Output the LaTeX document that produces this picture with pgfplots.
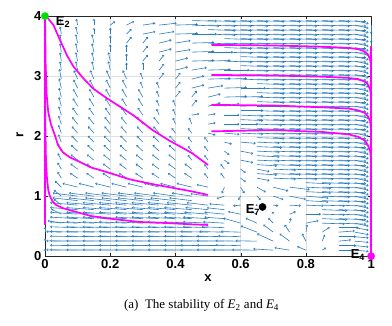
\documentclass[border=0pt]{standalone}
\usepackage{pgfplots}
\pgfplotsset{compat=1.18}
\usepackage{fontspec}
\setmainfont{Liberation Serif}
\newfontfamily\arial{Liberation Sans}
\usetikzlibrary{arrows.meta}
\definecolor{qblue}{HTML}{2A7DC0}
\definecolor{traj}{HTML}{FF00FF}
\definecolor{egreen}{HTML}{00E000}

% direction field: x r u v, with u and v given in picture pixels
\pgfplotstableread[row sep=\\]{
x r u v\\
0 0.1 0 1\\ 0.05 0.1 -12 0.3\\ 0.1 0.1 -22 0.3\\ 0.15 0.1 -22 0.3\\ 0.2 0.1 -22 0.3\\ 0.25 0.1 -22 0.3\\ 0.3 0.1 -22 0.3\\ 0.35 0.1 -22 0.3\\ 0.4 0.1 -22 0.3\\ 0.45 0.1 -22 0.3\\ 0.5 0.1 -22 0.3\\ 0.55 0.1 -22 0.3\\ 0.6 0.1 -22 0.3\\ 0.65 0.1 -20 0.3\\ 0.7 0.1 -16 1\\ 0.75 0.1 -12 2\\ 0.8 0.1 -7 3\\ 0.85 0.1 3 2\\ 0.9 0.1 12 0\\ 0.95 0.1 11 -1\\ 1 0.1 0 -2\\
0 0.25 0 2\\ 0.05 0.25 -12 0.3\\ 0.1 0.25 -22 0.3\\ 0.15 0.25 -22 0.3\\ 0.2 0.25 -22 0.3\\ 0.25 0.25 -22 0.3\\ 0.3 0.25 -22 0.3\\ 0.35 0.25 -22 0.3\\ 0.4 0.25 -22 0.3\\ 0.45 0.25 -22 0.3\\ 0.5 0.25 -22 0.3\\ 0.55 0.25 -22 0.3\\ 0.6 0.25 -20 0.3\\ 0.65 0.25 -17 0.3\\ 0.7 0.25 -13 6\\ 0.75 0.25 -8 6\\ 0.8 0.25 -3 6\\ 0.85 0.25 2 5\\ 0.9 0.25 10 1\\ 0.95 0.25 11 -1\\ 1 0.25 0 -4\\
0 0.4 0 4\\ 0.05 0.4 -12 0.5\\ 0.1 0.4 -22 0.5\\ 0.15 0.4 -22 0.5\\ 0.2 0.4 -22 0.5\\ 0.25 0.4 -22 0.5\\ 0.3 0.4 -22 0.5\\ 0.35 0.4 -22 0.5\\ 0.4 0.4 -22 0.5\\ 0.45 0.4 -22 0.5\\ 0.5 0.4 -22 0.5\\ 0.55 0.4 -20 0.5\\ 0.6 0.4 -16 0.5\\ 0.65 0.4 -13 5\\ 0.7 0.4 -8 6\\ 0.75 0.4 -4 6\\ 0.8 0.4 1 6\\ 0.85 0.4 6 4\\ 0.9 0.4 13 1\\ 0.95 0.4 11 -2\\ 1 0.4 0 -7\\
0 0.55 0 8\\ 0.05 0.55 -11 2\\ 0.1 0.55 -22 1\\ 0.15 0.55 -22 1\\ 0.2 0.55 -22 1\\ 0.25 0.55 -22 1\\ 0.3 0.55 -22 1\\ 0.35 0.55 -22 1\\ 0.4 0.55 -22 1\\ 0.45 0.55 -22 1\\ 0.5 0.55 -20 1\\ 0.55 0.55 -17 1\\ 0.6 0.55 -14 4\\ 0.65 0.55 -9 4\\ 0.7 0.55 -4 4\\ 0.75 0.55 1 4\\ 0.8 0.55 10 2\\ 0.85 0.55 18 -0.6\\ 0.9 0.55 22 -0.8\\ 0.95 0.55 11 -2.5\\ 1 0.55 0 -7\\
0 0.7 0 8\\ 0.05 0.7 -8 4\\ 0.1 0.7 -22 1.5\\ 0.15 0.7 -22 1.5\\ 0.2 0.7 -22 1.5\\ 0.25 0.7 -22 1.5\\ 0.3 0.7 -22 1.5\\ 0.35 0.7 -22 1.5\\ 0.4 0.7 -22 1.5\\ 0.45 0.7 -22 1.5\\ 0.5 0.7 -19 1.5\\ 0.55 0.7 -16 1.5\\ 0.6 0.7 -10 2\\ 0.65 0.7 -5 2\\ 0.7 0.7 -0.5 2\\ 0.75 0.7 5 2\\ 0.8 0.7 12 0\\ 0.85 0.7 18 -0.6\\ 0.9 0.7 22 -0.8\\ 0.95 0.7 11 -2.5\\ 1 0.7 0 -7\\
0 0.85 0 8\\ 0.05 0.85 -6 5\\ 0.1 0.85 -22 2\\ 0.15 0.85 -22 2\\ 0.2 0.85 -22 2\\ 0.25 0.85 -22 2\\ 0.3 0.85 -22 2\\ 0.35 0.85 -22 2\\ 0.4 0.85 -22 2\\ 0.45 0.85 -20 2\\ 0.5 0.85 -17 2\\ 0.55 0.85 -12 1\\ 0.6 0.85 -6 -0.5\\ 0.65 0.85 -1 -0.5\\ 0.7 0.85 4 -0.5\\ 0.75 0.85 9 -0.5\\ 0.8 0.85 14 -0.6\\ 0.85 0.85 18 -0.6\\ 0.9 0.85 22 -0.8\\ 0.95 0.85 11 -2.5\\ 1 0.85 0 -7\\
0 1.0 0 8\\ 0.05 1.0 -6 5\\ 0.1 1.0 -20 2.5\\ 0.15 1.0 -20 2.5\\ 0.2 1.0 -20 2.5\\ 0.25 1.0 -20 2.5\\ 0.3 1.0 -20 2.5\\ 0.35 1.0 -20 2.5\\ 0.4 1.0 -18 2.5\\ 0.45 1.0 -16 2.5\\ 0.5 1.0 -14 2\\ 0.55 1.0 -6 -2\\ 0.6 1.0 -2 -3\\ 0.65 1.0 3 -3\\ 0.7 1.0 8 -2.7\\ 0.75 1.0 13 -2.5\\ 0.8 1.0 18 -1.5\\ 0.85 1.0 22 -0.8\\ 0.9 1.0 22 -0.8\\ 0.95 1.0 11 -2.5\\ 1 1.0 0 -7\\
0 1.15 0 8\\ 0.05 1.15 -5 5\\ 0.1 1.15 -12 3\\ 0.15 1.15 -12 3\\ 0.2 1.15 -12 3\\ 0.25 1.15 -12 3\\ 0.3 1.15 -12 3\\ 0.35 1.15 -12 3\\ 0.4 1.15 -12 3\\ 0.45 1.15 -12 3\\ 0.5 1.15 -9 2\\ 0.55 1.15 -2 -5\\ 0.6 1.15 3 -5\\ 0.65 1.15 7 -4\\ 0.7 1.15 12 -3\\ 0.75 1.15 16 -2\\ 0.8 1.15 20 -1\\ 0.85 1.15 22 -0.8\\ 0.9 1.15 22 -0.8\\ 0.95 1.15 11 -2.5\\ 1 1.15 0 -7\\
0 1.3 0 8\\ 0.05 1.3 -3 5\\ 0.1 1.3 -6 4\\ 0.15 1.3 -6 4\\ 0.2 1.3 -6 4\\ 0.25 1.3 -6 4\\ 0.3 1.3 -6 4\\ 0.35 1.3 -6 4\\ 0.4 1.3 -6 4\\ 0.45 1.3 -6 4\\ 0.5 1.3 -3 4\\ 0.55 1.3 -3 4\\ 0.6 1.3 4 -3\\ 0.65 1.3 10 -2\\ 0.7 1.3 18 -0.8\\ 0.75 1.3 22 -0.8\\ 0.8 1.3 22 -0.8\\ 0.85 1.3 22 -0.8\\ 0.9 1.3 22 -0.8\\ 0.95 1.3 11 -2.5\\ 1 1.3 0 -7\\
0 1.45 0 8\\ 0.05 1.45 -3 5.3\\ 0.1 1.45 -5.7 4.3\\ 0.15 1.45 -5.7 4.3\\ 0.2 1.45 -5.7 4.3\\ 0.25 1.45 -5.7 4.3\\ 0.3 1.45 -5.7 4.3\\ 0.35 1.45 -5.7 4.3\\ 0.4 1.45 -5.7 4.3\\ 0.45 1.45 -5.7 4.3\\ 0.5 1.45 -3 4\\ 0.55 1.45 -3 4\\ 0.6 1.45 4 -3\\ 0.65 1.45 10 -2\\ 0.7 1.45 18 -0.8\\ 0.75 1.45 22 -0.8\\ 0.8 1.45 22 -0.8\\ 0.85 1.45 22 -0.8\\ 0.9 1.45 22 -0.8\\ 0.95 1.45 11 -2.5\\ 1 1.45 0 -7\\
0 1.6 0 8\\ 0.05 1.6 -2.8 5.5\\ 0.1 1.6 -5.5 4.5\\ 0.15 1.6 -5.5 4.5\\ 0.2 1.6 -5.5 4.5\\ 0.25 1.6 -5.5 4.5\\ 0.3 1.6 -5.5 4.5\\ 0.35 1.6 -5.5 4.5\\ 0.4 1.6 -5.5 4.5\\ 0.45 1.6 -3 4\\ 0.5 1.6 -3 4\\ 0.55 1.6 4 -3\\ 0.6 1.6 10 -2\\ 0.65 1.6 18 -0.8\\ 0.7 1.6 22 -0.8\\ 0.75 1.6 22 -0.8\\ 0.8 1.6 22 -0.8\\ 0.85 1.6 22 -0.8\\ 0.9 1.6 22 -0.8\\ 0.95 1.6 11 -2.5\\ 1 1.6 0 -7\\
0 1.75 0 8\\ 0.05 1.75 -2.6 5.8\\ 0.1 1.75 -5.2 4.8\\ 0.15 1.75 -5.2 4.8\\ 0.2 1.75 -5.2 4.8\\ 0.25 1.75 -5.2 4.8\\ 0.3 1.75 -5.2 4.8\\ 0.35 1.75 -5.2 4.8\\ 0.4 1.75 -5.2 4.8\\ 0.45 1.75 -3 4\\ 0.5 1.75 -3 4\\ 0.55 1.75 4 -3\\ 0.6 1.75 10 -2\\ 0.65 1.75 18 -0.8\\ 0.7 1.75 22 -0.8\\ 0.75 1.75 22 -0.8\\ 0.8 1.75 22 -0.8\\ 0.85 1.75 22 -0.8\\ 0.9 1.75 22 -0.8\\ 0.95 1.75 11 -2.5\\ 1 1.75 0 -7\\
0 1.9 0 8\\ 0.05 1.9 -2.5 6.1\\ 0.1 1.9 -4.9 5.1\\ 0.15 1.9 -4.9 5.1\\ 0.2 1.9 -4.9 5.1\\ 0.25 1.9 -4.9 5.1\\ 0.3 1.9 -4.9 5.1\\ 0.35 1.9 -4.9 5.1\\ 0.4 1.9 -4.9 5.1\\ 0.45 1.9 -3 4\\ 0.5 1.9 -3 4\\ 0.55 1.9 6 -1.5\\ 0.6 1.9 12 -1\\ 0.65 1.9 18 -0.8\\ 0.7 1.9 22 -0.8\\ 0.75 1.9 22 -0.8\\ 0.8 1.9 22 -0.8\\ 0.85 1.9 22 -0.8\\ 0.9 1.9 22 -0.8\\ 0.95 1.9 11 -2.5\\ 1 1.9 0 -7\\
0 2.05 0 8\\ 0.05 2.05 -2.3 6.4\\ 0.1 2.05 -4.6 5.4\\ 0.15 2.05 -4.6 5.4\\ 0.2 2.05 -4.6 5.4\\ 0.25 2.05 -4.6 5.4\\ 0.3 2.05 -4.6 5.4\\ 0.35 2.05 -4.6 5.4\\ 0.4 2.05 -3 4\\ 0.45 2.05 -3 4\\ 0.5 2.05 6 -1.5\\ 0.55 2.05 12 -1\\ 0.6 2.05 18 -0.8\\ 0.65 2.05 22 -0.8\\ 0.7 2.05 22 -0.8\\ 0.75 2.05 22 -0.8\\ 0.8 2.05 22 -0.8\\ 0.85 2.05 22 -0.8\\ 0.9 2.05 22 -0.8\\ 0.95 2.05 11 -2.5\\ 1 2.05 0 -7\\
0 2.2 0 8\\ 0.05 2.2 -2.2 6.6\\ 0.1 2.2 -4.4 5.6\\ 0.15 2.2 -4.4 5.6\\ 0.2 2.2 -4.4 5.6\\ 0.25 2.2 -4.4 5.6\\ 0.3 2.2 -4.4 5.6\\ 0.35 2.2 -4.4 5.6\\ 0.4 2.2 -2 5\\ 0.45 2.2 -2 5\\ 0.5 2.2 6 1\\ 0.55 2.2 12 0\\ 0.6 2.2 14 0\\ 0.65 2.2 20 -0.8\\ 0.7 2.2 22 -0.8\\ 0.75 2.2 22 -0.8\\ 0.8 2.2 22 -0.8\\ 0.85 2.2 22 -0.8\\ 0.9 2.2 22 -0.8\\ 0.95 2.2 11 -2.5\\ 1 2.2 0 -7\\
0 2.35 0 8\\ 0.05 2.35 -2 6.9\\ 0.1 2.35 -4.1 5.9\\ 0.15 2.35 -4.1 5.9\\ 0.2 2.35 -4.1 5.9\\ 0.25 2.35 -4.1 5.9\\ 0.3 2.35 -4.1 5.9\\ 0.35 2.35 -2 5\\ 0.4 2.35 -2 5\\ 0.45 2.35 6 1\\ 0.5 2.35 6 1\\ 0.55 2.35 12 0\\ 0.6 2.35 18 -0.8\\ 0.65 2.35 22 -0.8\\ 0.7 2.35 22 -0.8\\ 0.75 2.35 22 -0.8\\ 0.8 2.35 22 -0.8\\ 0.85 2.35 22 -0.8\\ 0.9 2.35 22 -0.8\\ 0.95 2.35 11 -2.5\\ 1 2.35 0 -7\\
0 2.5 0 8\\ 0.05 2.5 -1.9 7.2\\ 0.1 2.5 -3.8 6.2\\ 0.15 2.5 -3.8 6.2\\ 0.2 2.5 -3.8 6.2\\ 0.25 2.5 -3.8 6.2\\ 0.3 2.5 -3.8 6.2\\ 0.35 2.5 -2 5\\ 0.4 2.5 -2 5\\ 0.45 2.5 4 5\\ 0.5 2.5 10 2.5\\ 0.55 2.5 12 2\\ 0.6 2.5 18 0.5\\ 0.65 2.5 20 0\\ 0.7 2.5 22 -0.8\\ 0.75 2.5 22 -0.8\\ 0.8 2.5 22 -0.8\\ 0.85 2.5 22 -0.8\\ 0.9 2.5 22 -0.8\\ 0.95 2.5 11 -2.5\\ 1 2.5 0 -7\\
0 2.65 0 8\\ 0.05 2.65 -1.8 7.4\\ 0.1 2.65 -3.6 6.4\\ 0.15 2.65 -3.6 6.4\\ 0.2 2.65 -3.6 6.4\\ 0.25 2.65 -3.6 6.4\\ 0.3 2.65 -3.6 6.4\\ 0.35 2.65 -2 5\\ 0.4 2.65 4 5\\ 0.45 2.65 4 5\\ 0.5 2.65 10 2.5\\ 0.55 2.65 18 0.5\\ 0.6 2.65 18 0.5\\ 0.65 2.65 22 -0.8\\ 0.7 2.65 22 -0.8\\ 0.75 2.65 22 -0.8\\ 0.8 2.65 22 -0.8\\ 0.85 2.65 22 -0.8\\ 0.9 2.65 22 -0.8\\ 0.95 2.65 11 -2.5\\ 1 2.65 0 -7\\
0 2.8 0 8\\ 0.05 2.8 -1.7 7.7\\ 0.1 2.8 -3.3 6.7\\ 0.15 2.8 -3.3 6.7\\ 0.2 2.8 -3.3 6.7\\ 0.25 2.8 -3.3 6.7\\ 0.3 2.8 -2 5\\ 0.35 2.8 -2 5\\ 0.4 2.8 4 5\\ 0.45 2.8 10 2.5\\ 0.5 2.8 12 2\\ 0.55 2.8 18 0.5\\ 0.6 2.8 20 0\\ 0.65 2.8 22 -0.8\\ 0.7 2.8 22 -0.8\\ 0.75 2.8 22 -0.8\\ 0.8 2.8 22 -0.8\\ 0.85 2.8 22 -0.8\\ 0.9 2.8 22 -0.8\\ 0.95 2.8 11 -2.5\\ 1 2.8 0 -7\\
0 2.95 0 8\\ 0.05 2.95 -1.5 8\\ 0.1 2.95 -3 7\\ 0.15 2.95 -3 7\\ 0.2 2.95 -3 7\\ 0.25 2.95 -3 7\\ 0.3 2.95 -2 5\\ 0.35 2.95 4 5\\ 0.4 2.95 4 5\\ 0.45 2.95 10 2.5\\ 0.5 2.95 18 0.5\\ 0.55 2.95 18 0.5\\ 0.6 2.95 22 -0.8\\ 0.65 2.95 22 -0.8\\ 0.7 2.95 22 -0.8\\ 0.75 2.95 22 -0.8\\ 0.8 2.95 22 -0.8\\ 0.85 2.95 22 -0.8\\ 0.9 2.95 22 -0.8\\ 0.95 2.95 11 -2.5\\ 1 2.95 0 -7\\
0 3.1 0 8\\ 0.05 3.1 -1 7\\ 0.1 3.1 -1.5 7\\ 0.15 3.1 -1.5 7\\ 0.2 3.1 -1.5 7\\ 0.25 3.1 0 6\\ 0.3 3.1 0 6\\ 0.35 3.1 4 5\\ 0.4 3.1 10 2.5\\ 0.45 3.1 12 2\\ 0.5 3.1 18 0.5\\ 0.55 3.1 20 0\\ 0.6 3.1 22 -0.8\\ 0.65 3.1 22 -0.8\\ 0.7 3.1 22 -0.8\\ 0.75 3.1 22 -0.8\\ 0.8 3.1 22 -0.8\\ 0.85 3.1 22 -0.8\\ 0.9 3.1 22 -0.8\\ 0.95 3.1 11 -2.5\\ 1 3.1 0 -7\\
0 3.25 0 8\\ 0.05 3.25 -1 7\\ 0.1 3.25 -1.5 7\\ 0.15 3.25 -1.5 7\\ 0.2 3.25 -1.5 7\\ 0.25 3.25 0 6\\ 0.3 3.25 4 5\\ 0.35 3.25 4 5\\ 0.4 3.25 10 2.5\\ 0.45 3.25 18 0.5\\ 0.5 3.25 18 0.5\\ 0.55 3.25 22 -0.8\\ 0.6 3.25 22 -0.8\\ 0.65 3.25 22 -0.8\\ 0.7 3.25 22 -0.8\\ 0.75 3.25 22 -0.8\\ 0.8 3.25 22 -0.8\\ 0.85 3.25 22 -0.8\\ 0.9 3.25 22 -0.8\\ 0.95 3.25 11 -2.5\\ 1 3.25 0 -7\\
0 3.4 0 8\\ 0.05 3.4 -1 7\\ 0.1 3.4 -1.5 7\\ 0.15 3.4 -1.5 7\\ 0.2 3.4 0 6\\ 0.25 3.4 0 6\\ 0.3 3.4 4 5\\ 0.35 3.4 10 2.5\\ 0.4 3.4 12 2\\ 0.45 3.4 18 0.5\\ 0.5 3.4 20 0\\ 0.55 3.4 22 -0.8\\ 0.6 3.4 22 -0.8\\ 0.65 3.4 22 -0.8\\ 0.7 3.4 22 -0.8\\ 0.75 3.4 22 -0.8\\ 0.8 3.4 22 -0.8\\ 0.85 3.4 22 -0.8\\ 0.9 3.4 22 -0.8\\ 0.95 3.4 11 -2.5\\ 1 3.4 0 -7\\
0 3.55 0 8\\ 0.05 3.55 -1 7\\ 0.1 3.55 -1.5 7\\ 0.15 3.55 -1.5 7\\ 0.2 3.55 0 6\\ 0.25 3.55 4 5\\ 0.3 3.55 4 5\\ 0.35 3.55 10 2.5\\ 0.4 3.55 12 2\\ 0.45 3.55 18 0.5\\ 0.5 3.55 22 -0.8\\ 0.55 3.55 22 -0.8\\ 0.6 3.55 22 -0.8\\ 0.65 3.55 22 -0.8\\ 0.7 3.55 22 -0.8\\ 0.75 3.55 22 -0.8\\ 0.8 3.55 22 -0.8\\ 0.85 3.55 22 -0.8\\ 0.9 3.55 22 -0.8\\ 0.95 3.55 11 -2.5\\ 1 3.55 0 -7\\
0 3.7 0 7\\ 0.05 3.7 -1 6\\ 0.1 3.7 -1.5 6\\ 0.15 3.7 0 5\\ 0.2 3.7 0 5\\ 0.25 3.7 4 4\\ 0.3 3.7 10 2\\ 0.35 3.7 12 2\\ 0.4 3.7 18 0.5\\ 0.45 3.7 20 0\\ 0.5 3.7 22 -0.8\\ 0.55 3.7 22 -0.8\\ 0.6 3.7 22 -0.8\\ 0.65 3.7 22 -0.8\\ 0.7 3.7 22 -0.8\\ 0.75 3.7 22 -0.8\\ 0.8 3.7 22 -0.8\\ 0.85 3.7 22 -0.8\\ 0.9 3.7 22 -0.8\\ 0.95 3.7 11 -2.5\\ 1 3.7 0 -7\\
0 3.85 0 5\\ 0.05 3.85 -1 5\\ 0.1 3.85 -1 5\\ 0.15 3.85 0 5\\ 0.2 3.85 4 3\\ 0.25 3.85 6 3\\ 0.3 3.85 10 1.5\\ 0.35 3.85 14 1.5\\ 0.4 3.85 18 0.5\\ 0.45 3.85 22 -0.8\\ 0.5 3.85 22 -0.8\\ 0.55 3.85 22 -0.8\\ 0.6 3.85 22 -0.8\\ 0.65 3.85 22 -0.8\\ 0.7 3.85 22 -0.8\\ 0.75 3.85 22 -0.8\\ 0.8 3.85 22 -0.8\\ 0.85 3.85 22 -0.8\\ 0.9 3.85 22 -0.8\\ 0.95 3.85 11 -2.5\\ 1 3.85 0 -7\\
}\field

% extra rows in between, where the field runs in long nearly level streaks
\pgfplotstableread[row sep=\\]{
x r u v\\
0.1 0.175 -22 0.3\\ 0.15 0.175 -22 0.3\\ 0.2 0.175 -22 0.3\\ 0.25 0.175 -22 0.3\\ 0.3 0.175 -22 0.3\\ 0.35 0.175 -22 0.3\\ 0.4 0.175 -22 0.3\\ 0.45 0.175 -22 0.3\\ 0.5 0.175 -22 0.3\\ 0.55 0.175 -22 0.3\\ 0.6 0.175 -20 0.5\\ 0.9 0.175 14 0\\ 0.95 0.175 11 -1\\
0.1 0.325 -22 0.4\\ 0.15 0.325 -22 0.4\\ 0.2 0.325 -22 0.4\\ 0.25 0.325 -22 0.4\\ 0.3 0.325 -22 0.4\\ 0.35 0.325 -22 0.4\\ 0.4 0.325 -22 0.4\\ 0.45 0.325 -22 0.4\\ 0.5 0.325 -22 0.4\\ 0.55 0.325 -22 0.4\\ 0.6 0.325 -18 0.5\\ 0.9 0.325 14 0\\ 0.95 0.325 11 -1\\
0.1 0.475 -22 0.7\\ 0.15 0.475 -22 0.7\\ 0.2 0.475 -22 0.7\\ 0.25 0.475 -22 0.7\\ 0.3 0.475 -22 0.7\\ 0.35 0.475 -22 0.7\\ 0.4 0.475 -22 0.7\\ 0.45 0.475 -22 0.7\\ 0.5 0.475 -20 0.7\\ 0.55 0.475 -18 0.7\\ 0.9 0.475 16 0\\ 0.95 0.475 11 -2\\
0.1 0.625 -22 1.2\\ 0.15 0.625 -22 1.2\\ 0.2 0.625 -22 1.2\\ 0.25 0.625 -22 1.2\\ 0.3 0.625 -22 1.2\\ 0.35 0.625 -22 1.2\\ 0.4 0.625 -22 1.2\\ 0.45 0.625 -22 1.2\\ 0.5 0.625 -20 1.2\\ 0.55 0.625 -16 1.2\\ 0.85 0.625 20 -0.8\\ 0.9 0.625 22 -0.8\\ 0.95 0.625 11 -2.5\\
0.1 0.775 -22 1.7\\ 0.15 0.775 -22 1.7\\ 0.2 0.775 -22 1.7\\ 0.25 0.775 -22 1.7\\ 0.3 0.775 -22 1.7\\ 0.35 0.775 -22 1.7\\ 0.4 0.775 -22 1.7\\ 0.45 0.775 -22 1.7\\ 0.5 0.775 -18 1.7\\ 0.55 0.775 -14 1.5\\ 0.85 0.775 20 -0.8\\ 0.9 0.775 22 -0.8\\ 0.95 0.775 11 -2.5\\
0.1 0.925 -20 2.2\\ 0.15 0.925 -20 2.2\\ 0.2 0.925 -20 2.2\\ 0.25 0.925 -20 2.2\\ 0.3 0.925 -20 2.2\\ 0.35 0.925 -20 2.2\\ 0.4 0.925 -20 2.2\\ 0.45 0.925 -18 2.2\\ 0.8 0.925 18 -1\\ 0.85 0.925 22 -0.8\\ 0.9 0.925 22 -0.8\\ 0.95 0.925 11 -2.5\\
0.8 1.075 20 -1\\ 0.85 1.075 22 -0.8\\ 0.9 1.075 22 -0.8\\ 0.95 1.075 11 -2.5\\
0.8 1.225 20 -1\\ 0.85 1.225 22 -0.8\\ 0.9 1.225 22 -0.8\\ 0.95 1.225 11 -2.5\\
0.65 1.375 16 -1\\ 0.7 1.375 22 -0.8\\ 0.75 1.375 22 -0.8\\ 0.8 1.375 22 -0.8\\ 0.85 1.375 22 -0.8\\ 0.9 1.375 22 -0.8\\ 0.95 1.375 11 -2.5\\
0.65 1.525 16 -1\\ 0.7 1.525 22 -0.8\\ 0.75 1.525 22 -0.8\\ 0.8 1.525 22 -0.8\\ 0.85 1.525 22 -0.8\\ 0.9 1.525 22 -0.8\\ 0.95 1.525 11 -2.5\\
0.65 1.675 18 -1\\ 0.7 1.675 22 -0.8\\ 0.75 1.675 22 -0.8\\ 0.8 1.675 22 -0.8\\ 0.85 1.675 22 -0.8\\ 0.9 1.675 22 -0.8\\ 0.95 1.675 11 -2.5\\
0.65 1.825 20 -0.8\\ 0.7 1.825 22 -0.8\\ 0.75 1.825 22 -0.8\\ 0.8 1.825 22 -0.8\\ 0.85 1.825 22 -0.8\\ 0.9 1.825 22 -0.8\\ 0.95 1.825 11 -2.5\\
0.65 1.975 22 -0.8\\ 0.7 1.975 22 -0.8\\ 0.75 1.975 22 -0.8\\ 0.8 1.975 22 -0.8\\ 0.85 1.975 22 -0.8\\ 0.9 1.975 22 -0.8\\ 0.95 1.975 11 -2.5\\
0.6 2.125 18 -0.8\\ 0.65 2.125 22 -0.8\\ 0.7 2.125 22 -0.8\\ 0.75 2.125 22 -0.8\\ 0.8 2.125 22 -0.8\\ 0.85 2.125 22 -0.8\\ 0.9 2.125 22 -0.8\\ 0.95 2.125 11 -2.5\\
0.6 2.275 18 -0.8\\ 0.65 2.275 22 -0.8\\ 0.7 2.275 22 -0.8\\ 0.75 2.275 22 -0.8\\ 0.8 2.275 22 -0.8\\ 0.85 2.275 22 -0.8\\ 0.9 2.275 22 -0.8\\ 0.95 2.275 11 -2.5\\
0.6 2.425 18 0\\ 0.65 2.425 22 -0.8\\ 0.7 2.425 22 -0.8\\ 0.75 2.425 22 -0.8\\ 0.8 2.425 22 -0.8\\ 0.85 2.425 22 -0.8\\ 0.9 2.425 22 -0.8\\ 0.95 2.425 11 -2.5\\
0.65 2.575 22 -0.8\\ 0.7 2.575 22 -0.8\\ 0.75 2.575 22 -0.8\\ 0.8 2.575 22 -0.8\\ 0.85 2.575 22 -0.8\\ 0.9 2.575 22 -0.8\\ 0.95 2.575 11 -2.5\\
0.65 2.725 22 -0.8\\ 0.7 2.725 22 -0.8\\ 0.75 2.725 22 -0.8\\ 0.8 2.725 22 -0.8\\ 0.85 2.725 22 -0.8\\ 0.9 2.725 22 -0.8\\ 0.95 2.725 11 -2.5\\
0.65 2.875 22 -0.8\\ 0.7 2.875 22 -0.8\\ 0.75 2.875 22 -0.8\\ 0.8 2.875 22 -0.8\\ 0.85 2.875 22 -0.8\\ 0.9 2.875 22 -0.8\\ 0.95 2.875 11 -2.5\\
0.6 3.025 22 -0.8\\ 0.65 3.025 22 -0.8\\ 0.7 3.025 22 -0.8\\ 0.75 3.025 22 -0.8\\ 0.8 3.025 22 -0.8\\ 0.85 3.025 22 -0.8\\ 0.9 3.025 22 -0.8\\ 0.95 3.025 11 -2.5\\
0.6 3.175 22 -0.8\\ 0.65 3.175 22 -0.8\\ 0.7 3.175 22 -0.8\\ 0.75 3.175 22 -0.8\\ 0.8 3.175 22 -0.8\\ 0.85 3.175 22 -0.8\\ 0.9 3.175 22 -0.8\\ 0.95 3.175 11 -2.5\\
0.6 3.325 22 -0.8\\ 0.65 3.325 22 -0.8\\ 0.7 3.325 22 -0.8\\ 0.75 3.325 22 -0.8\\ 0.8 3.325 22 -0.8\\ 0.85 3.325 22 -0.8\\ 0.9 3.325 22 -0.8\\ 0.95 3.325 11 -2.5\\
0.55 3.475 22 -0.8\\ 0.6 3.475 22 -0.8\\ 0.65 3.475 22 -0.8\\ 0.7 3.475 22 -0.8\\ 0.75 3.475 22 -0.8\\ 0.8 3.475 22 -0.8\\ 0.85 3.475 22 -0.8\\ 0.9 3.475 22 -0.8\\ 0.95 3.475 11 -2.5\\
0.55 3.625 22 -0.8\\ 0.6 3.625 22 -0.8\\ 0.65 3.625 22 -0.8\\ 0.7 3.625 22 -0.8\\ 0.75 3.625 22 -0.8\\ 0.8 3.625 22 -0.8\\ 0.85 3.625 22 -0.8\\ 0.9 3.625 22 -0.8\\ 0.95 3.625 11 -2.5\\
0.5 3.775 22 -0.8\\ 0.55 3.775 22 -0.8\\ 0.6 3.775 22 -0.8\\ 0.65 3.775 22 -0.8\\ 0.7 3.775 22 -0.8\\ 0.75 3.775 22 -0.8\\ 0.8 3.775 22 -0.8\\ 0.85 3.775 22 -0.8\\ 0.9 3.775 22 -0.8\\ 0.95 3.775 11 -2.5\\
0.45 3.925 20 -0.5\\ 0.5 3.925 22 -0.8\\ 0.55 3.925 22 -0.8\\ 0.6 3.925 22 -0.8\\ 0.65 3.925 22 -0.8\\ 0.7 3.925 22 -0.8\\ 0.75 3.925 22 -0.8\\ 0.8 3.925 22 -0.8\\ 0.85 3.925 22 -0.8\\ 0.9 3.925 22 -0.8\\ 0.95 3.925 11 -2.5\\
}\fieldb

\begin{document}
\begin{tikzpicture}
\begin{axis}[
  scale only axis,
  width=326pt, height=240pt,
  xmin=0, xmax=1, ymin=0, ymax=4,
  xtick={0,0.2,0.4,0.6,0.8,1},
  ytick={0,1,2,3,4},
  tick align=inside,
  major tick length=3pt,
  grid=major,
  grid style={black!12, line width=0.4pt},
  axis line style={black!85, line width=0.6pt},
  tick style={black!85},
  tick label style={font=\arial\bfseries\fontsize{13}{13}\selectfont,
    /pgf/number format/assume math mode=true},
  clip=false,
]
% invisible frame giving the picture the reference's margins
\path (rel axis cs:-0.138,-0.2875) rectangle (rel axis cs:1.064,1.067);

% arrows drawn 1.25 times the tabulated pixel length
\addplot[qblue, line width=0.6pt,
  quiver={u=\thisrow{u}/260, v=\thisrow{v}/48},
  -{Straight Barb[length=1.4pt,width=2.2pt]}] table[x=x, y=r] {\field};
\addplot[qblue, line width=0.6pt,
  quiver={u=\thisrow{u}/260, v=\thisrow{v}/48},
  -{Straight Barb[length=1.4pt,width=2.2pt]}] table[x=x, y=r] {\fieldb};

% trajectories
\addplot[traj, line width=1.7pt] coordinates {
  (0.5,1.52) (0.45,1.72) (0.38,1.93) (0.33,2.1) (0.27,2.35) (0.23,2.49)
  (0.19,2.63) (0.148,2.79) (0.118,2.96) (0.087,3.16) (0.067,3.35) (0.046,3.6)
  (0.026,3.85) (0.005,3.99) (0,4)};
\addplot[traj, line width=1.7pt] coordinates {
  (0.5,1.02) (0.45,1.08) (0.4,1.13) (0.33,1.2) (0.26,1.28) (0.19,1.4) (0.14,1.48)
  (0.107,1.57) (0.075,1.65) (0.055,1.73) (0.04,1.85) (0.03,2.02) (0.018,2.2)
  (0.01,2.4) (0.005,2.7) (0.002,3.2) (0,4)};
\addplot[traj, line width=1.7pt] coordinates {
  (0.5,0.52) (0.45,0.53) (0.38,0.55) (0.29,0.57) (0.19,0.63) (0.14,0.67)
  (0.107,0.72) (0.08,0.76) (0.055,0.8) (0.035,0.85) (0.025,0.9) (0.015,1.0)
  (0.01,1.1) (0.006,1.3) (0.003,1.6) (0.001,2.2) (0,4)};
\addplot[traj, line width=2pt] coordinates {(0,0.52) (0,4)};
\addplot[traj, line width=1.7pt] coordinates {
  (0.51,3.52) (0.7,3.51) (0.85,3.49) (0.93,3.47) (0.96,3.45) (0.98,3.41)
  (0.99,3.36) (0.997,3.28) (1,3.15)};
\addplot[traj, line width=1.7pt] coordinates {
  (0.51,3.02) (0.7,3.01) (0.85,2.99) (0.93,2.97) (0.96,2.95) (0.98,2.91)
  (0.99,2.86) (0.997,2.78) (1,2.65)};
\addplot[traj, line width=1.7pt] coordinates {
  (0.51,2.52) (0.7,2.51) (0.85,2.48) (0.93,2.46) (0.96,2.43) (0.98,2.39)
  (0.99,2.33) (0.997,2.25) (1,2.1)};
\addplot[traj, line width=1.7pt] coordinates {
  (0.51,2.08) (0.7,2.1) (0.85,2.07) (0.93,2.03) (0.96,1.99) (0.98,1.93)
  (0.99,1.85) (0.997,1.75) (1,1.6)};
\addplot[traj, line width=2pt] coordinates {(1,3.5) (1,0)};

% equilibria
\addplot[only marks, mark=*, mark size=3.6pt, color=egreen] coordinates {(0,4)};
\addplot[only marks, mark=*, mark size=3.6pt, color=traj] coordinates {(1,0)};
\addplot[only marks, mark=*, mark size=3.6pt, color=black] coordinates {(0.667,0.82)};

\node[anchor=north west, inner sep=0, font=\arial\bfseries\fontsize{13}{13}\selectfont]
  at (axis cs:0.033,4.0) {E\textsubscript{2}};
\node[anchor=north east, inner sep=0, font=\arial\bfseries\fontsize{13}{13}\selectfont]
  at (axis cs:0.66,0.86) {E\textsubscript{7}};
\node[anchor=north east, inner sep=0, font=\arial\bfseries\fontsize{13}{13}\selectfont]
  at (axis cs:0.982,0.12) {E\textsubscript{4}};

\node[font=\arial\bfseries\fontsize{13}{13}\selectfont] at (rel axis cs:0.5,-0.092) {x};
\node[font=\arial\bfseries\fontsize{13}{13}\selectfont, rotate=90]
  at (rel axis cs:-0.077,0.504) {r};
\node[font=\fontsize{13}{15}\selectfont] at (rel axis cs:0.48,-0.205)
  {(a)\enspace The stability of \textit{E}\textsubscript{2} and \textit{E}\textsubscript{4}};
\end{axis}
\end{tikzpicture}
\end{document}
